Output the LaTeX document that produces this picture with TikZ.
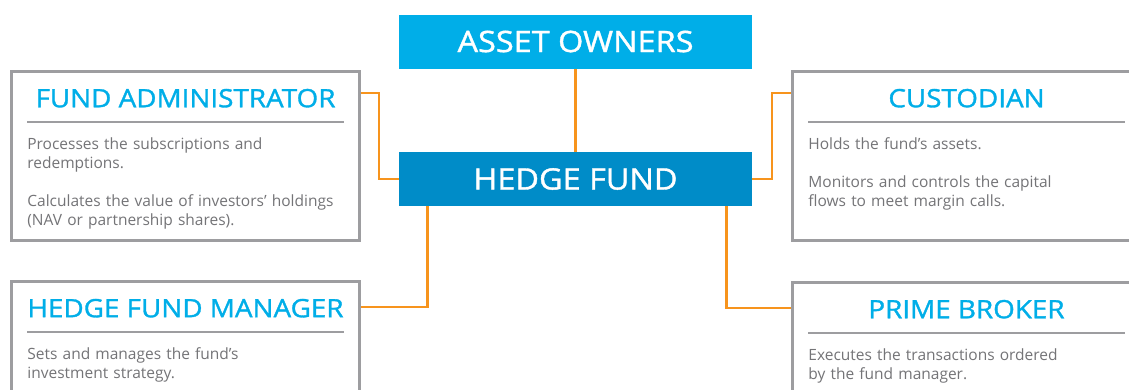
\documentclass[tikz,border=0pt]{standalone}
\usepackage{fontspec}
\setmainfont{Open Sans}
\newfontfamily\headfont{Open Sans}[FakeStretch=1.1,RawFeature={embolden=1.3}]
\usetikzlibrary{positioning}
\definecolor{ownerblue}{HTML}{00AEE8}
\definecolor{fundblue}{HTML}{008CC8}
\definecolor{linkorange}{HTML}{F7941D}
\definecolor{framegray}{HTML}{9D9DA0}
\definecolor{bodygray}{HTML}{747477}
\tikzset{
  bluebox/.style={minimum width=353pt,minimum height=54pt,inner sep=0pt,text=white,
    font=\headfont\fontsize{29.5}{34}\selectfont},
  rolebox/.style={draw=framegray,line width=2.6pt,minimum width=348pt,minimum height=169pt,inner sep=0pt},
  roletitle/.style={text=ownerblue,inner sep=0pt,font=\headfont\fontsize{25.3}{30}\selectfont},
  rolerule/.style={draw=framegray,line width=1.6pt},
  roletext/.style={text=bodygray,inner sep=0pt,align=left,text width=330pt,
    font=\fontsize{15.5}{19}\selectfont},
  link/.style={draw=linkorange,line width=2.2pt}
}
\begin{document}
\begin{tikzpicture}[x=1pt,y=-1pt]
\clip (0,0) rectangle (1129,389);
\fill[white] (0,0) rectangle (1129,389);
% Drawing the two central boxes
\node[bluebox,fill=ownerblue] (owners) at (575.5,41.5) {ASSET OWNERS};
\node[bluebox,fill=fundblue] (fund) at (575.5,179) {HEDGE FUND};
% Drawing the four service boxes
\node[rolebox] (admin) at (185.5,156) {};
\node[rolebox] (custodian) at (966.5,156) {};
\node[rolebox] (manager) at (185.5,366) {};
\node[rolebox] (broker) at (966.5,367) {};
% Titles, rules and texts of the service boxes
\node[roletitle] (admin-title) at ([yshift=-28pt]admin.north) {FUND ADMINISTRATOR};
\draw[rolerule] ([xshift=17pt,yshift=-52pt]admin.north west) -- ([xshift=-17pt,yshift=-52pt]admin.north east);
\node[roletext,anchor=north west] (admin-text) at ([xshift=17pt,yshift=-67pt]admin.north west)
  {Processes the subscriptions and\\ redemptions.\\[19pt] Calculates the value of investors’ holdings\\ (NAV or partnership shares).};
\node[roletitle] (custodian-title) at ([yshift=-28pt]custodian.north) {CUSTODIAN};
\draw[rolerule] ([xshift=17pt,yshift=-52pt]custodian.north west) -- ([xshift=-17pt,yshift=-52pt]custodian.north east);
\node[roletext,anchor=north west] (custodian-text) at ([xshift=17pt,yshift=-67pt]custodian.north west)
  {Holds the fund’s assets.\\[19pt] Monitors and controls the capital\\ flows to meet margin calls.};
\node[roletitle] (manager-title) at ([yshift=-28pt]manager.north) {HEDGE FUND MANAGER};
\draw[rolerule] ([xshift=17pt,yshift=-52pt]manager.north west) -- ([xshift=-17pt,yshift=-52pt]manager.north east);
\node[roletext,anchor=north west] (manager-text) at ([xshift=17pt,yshift=-67pt]manager.north west)
  {Sets and manages the fund’s\\ investment strategy.};
\node[roletitle] (broker-title) at ([yshift=-28pt]broker.north) {PRIME BROKER};
\draw[rolerule] ([xshift=17pt,yshift=-52pt]broker.north west) -- ([xshift=-17pt,yshift=-52pt]broker.north east);
\node[roletext,anchor=north west] (broker-text) at ([xshift=17pt,yshift=-67pt]broker.north west)
  {Executes the transactions ordered\\ by the fund manager.};
% Drawing the links
\draw[link] (owners.south) -- (fund.north);
\draw[link] ([yshift=-23pt]admin.north east) -| ([xshift=-20pt]fund.west) -- (fund.west);
\draw[link] (fund.east) -- ++(20,0) |- ([yshift=-23pt]custodian.north west);
\draw[link] ([xshift=-148pt]fund.south) |- ([yshift=-27pt]manager.north east);
\draw[link] ([xshift=151pt]fund.south) |- ([yshift=-27pt]broker.north west);
\end{tikzpicture}
\end{document}
